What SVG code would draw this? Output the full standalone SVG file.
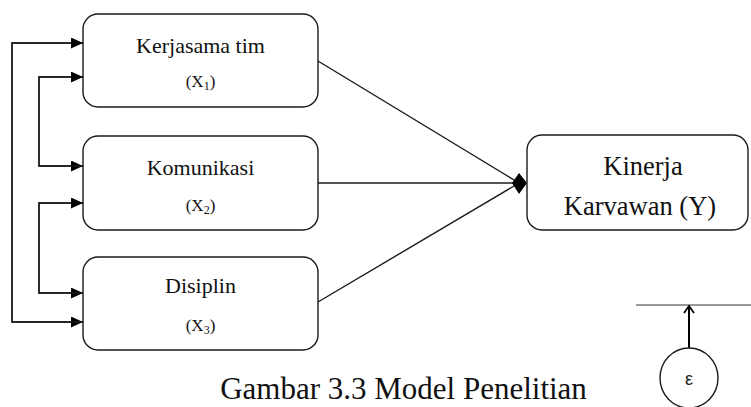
<svg xmlns="http://www.w3.org/2000/svg" width="751" height="407" viewBox="0 0 751 407">
<style>
.box{fill:#fff;stroke:#1a1a1a;stroke-width:1.4}
text.t{font-family:'Liberation Serif','Times New Roman',Times,serif;fill:#111;text-anchor:middle}
.con{fill:none;stroke:#1a1a1a;stroke-width:1.4}
.thin{fill:none;stroke:#333;stroke-width:1}
</style>
<defs>
<marker id="tri" markerWidth="12" markerHeight="11" refX="12" refY="5.5" orient="auto" markerUnits="userSpaceOnUse">
<path d="M0,0 L12,5.5 L0,11 Z" fill="#000"/>
</marker>
<marker id="open" markerWidth="12" markerHeight="10" refX="6" refY="1" orient="0" markerUnits="userSpaceOnUse">
<path d="M1,8 L6,1 L11,8" fill="none" stroke="#000" stroke-width="1.8"/>
</marker>
</defs>
<rect width="751" height="407" fill="#fff"/>
<g id="connectors">
<path class="con" d="M318,61 L519,183"/>
<path class="con" d="M318,183 L519,183"/>
<path class="con" d="M318,302 L519,183"/>
<polygon points="512,183 519,173 527,183 519,194" fill="#000"/>
<path class="con" d="M83,43 H12 V322 H83" marker-end="url(#tri)"/>
<path class="con" d="M83,322 H12 V43 H83" marker-end="url(#tri)"/>
<path class="con" d="M83,77 H39 V166 H83" marker-end="url(#tri)"/>
<path class="con" d="M83,166 H39 V77 H83" marker-end="url(#tri)"/>
<path class="con" d="M83,203 H39 V293 H83" marker-end="url(#tri)"/>
<path class="con" d="M83,293 H39 V203 H83" marker-end="url(#tri)"/>
<line class="thin" x1="636" y1="305" x2="751" y2="305"/>
<line x1="689" y1="348" x2="689" y2="306" stroke="#000" stroke-width="2" marker-end="url(#open)"/>
</g>
<g id="x1">
<rect class="box" x="83" y="14" width="235" height="93" rx="15"/>
<text class="t" font-family="Liberation Serif, serif" font-size="22" x="200.5" y="53">Kerjasama tim</text>
<text class="t" font-family="Liberation Serif, serif" font-size="17" x="200.5" y="87">(X<tspan font-size="12" dy="3">1</tspan><tspan dy="-3">)</tspan></text>
</g>
<g id="x2">
<rect class="box" x="83" y="136" width="235" height="94" rx="15"/>
<text class="t" font-family="Liberation Serif, serif" font-size="22" x="200.5" y="175">Komunikasi</text>
<text class="t" font-family="Liberation Serif, serif" font-size="17" x="200.5" y="211">(X<tspan font-size="12" dy="3">2</tspan><tspan dy="-3">)</tspan></text>
</g>
<g id="x3">
<rect class="box" x="83" y="257" width="235" height="93" rx="15"/>
<text class="t" font-family="Liberation Serif, serif" font-size="22" x="200.5" y="293">Disiplin</text>
<text class="t" font-family="Liberation Serif, serif" font-size="17" x="200.5" y="331">(X<tspan font-size="12" dy="3">3</tspan><tspan dy="-3">)</tspan></text>
</g>
<g id="y">
<rect class="box" x="527" y="135" width="221" height="95" rx="15"/>
<text class="t" font-family="Liberation Serif, serif" font-size="26.5" x="643" y="175">Kinerja</text>
<text class="t" font-family="Liberation Serif, serif" font-size="26.5" x="640" y="215">Karvawan (Y)</text>
</g>
<g id="epsilon">
<ellipse cx="689" cy="378" rx="29" ry="30" fill="#fff" stroke="#1a1a1a" stroke-width="1.4"/>
<text x="689" y="385" font-family="Liberation Sans, Arial, sans-serif" font-size="18" text-anchor="middle" fill="#222">ε</text>
</g>
<text class="t" font-family="Liberation Serif, serif" x="403.5" y="399" font-size="31">Gambar 3.3 Model Penelitian</text>
</svg>
